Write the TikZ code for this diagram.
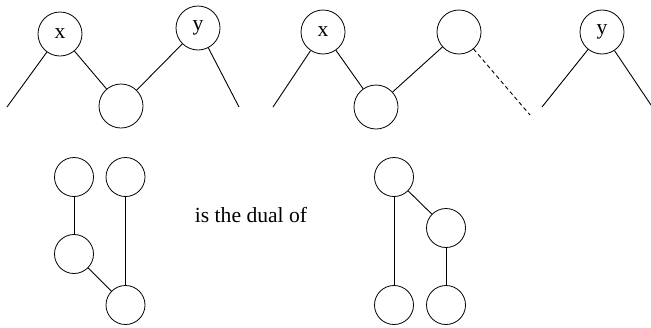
\documentclass[tikz,border=0pt]{standalone}
\usepackage{fontspec}
\setmainfont{Liberation Serif}
\tikzset{
  bignode/.style={draw, circle, minimum size=22pt, inner sep=0pt},
  smallnode/.style={draw, circle, minimum size=19.5pt, inner sep=0pt},
  edge/.style={draw, line width=0.45pt},
}
\begin{document}
\begin{tikzpicture}[x=0.5pt, y=-0.5pt, font=\fontsize{10.8}{13}\selectfont]
    \useasboundingbox (0,0) rectangle (651,327);
    % first tree
    \node[bignode] (x1) at (60,34) {x};
    \node[bignode] (b1) at (121,106) {};
    \node[bignode] (y1) at (198,28) {y};
    \coordinate (l1) at (7,107);
    \coordinate (r1) at (239,107);
    \draw[edge] (x1) -- (l1);
    \draw[edge] (x1) -- (b1);
    \draw[edge] (b1) -- (y1);
    \draw[edge] (y1) -- (r1);
    % second tree
    \node[bignode] (x2) at (323,32) {x};
    \node[bignode] (b2) at (376,107) {};
    \node[bignode] (m2) at (459,32) {};
    \node[bignode] (y2) at (602,32) {y};
    \coordinate (l2) at (273,107);
    \coordinate (d2) at (530,115);
    \coordinate (yl2) at (542,107);
    \coordinate (yr2) at (651,105);
    \draw[edge] (x2) -- (l2);
    \draw[edge] (x2) -- (b2);
    \draw[edge] (b2) -- (m2);
    \draw[edge, dash pattern=on 2pt off 1.5pt] (m2) -- (d2);
    \draw[edge] (y2) -- (yl2);
    \draw[edge] (y2) -- (yr2);
    % lower left
    \node[smallnode] (a) at (74,177) {};
    \node[smallnode] (b) at (125.5,177) {};
    \node[smallnode] (c) at (74,254) {};
    \node[smallnode] (d) at (125.5,305) {};
    \draw[edge] (a) -- (c);
    \draw[edge] (c) -- (d);
    \draw[edge] (b) -- (d);
    \node (dual) at (251,215) {is the dual of};
    % lower right
    \node[smallnode] (e) at (394,177) {};
    \node[smallnode] (f) at (446,228) {};
    \node[smallnode] (g) at (394,305) {};
    \node[smallnode] (h) at (446,305) {};
    \draw[edge] (e) -- (g);
    \draw[edge] (e) -- (f);
    \draw[edge] (f) -- (h);
\end{tikzpicture}
\end{document}
